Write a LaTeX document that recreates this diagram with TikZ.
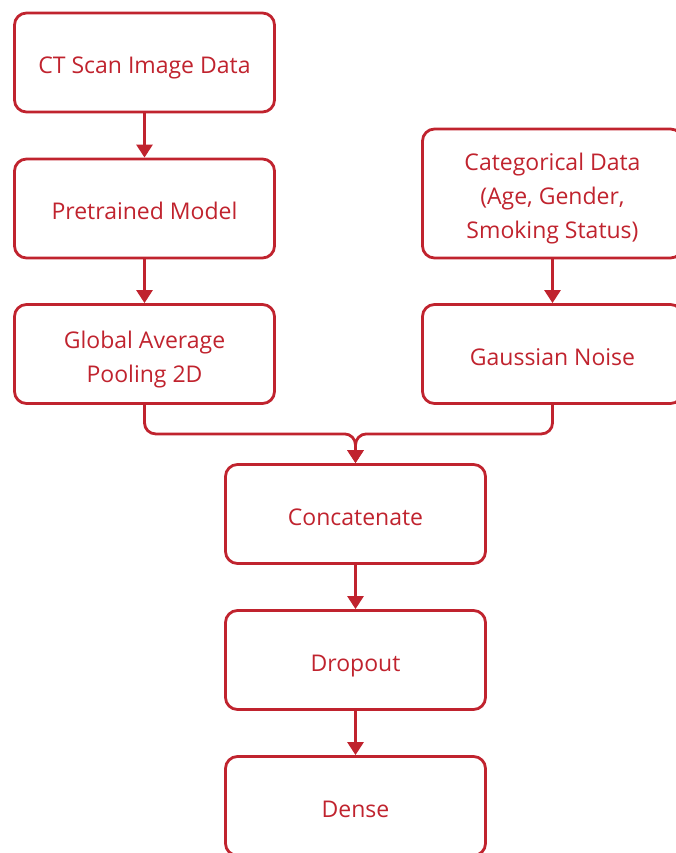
\documentclass[tikz,border=0pt]{standalone}
\usepackage{fontspec}
\setmainfont{Open Sans}
\usetikzlibrary{arrows.meta}
\definecolor{flowred}{HTML}{C0232E}
% centred label, set slightly below the optical middle of its box
\newcommand\boxlabel[1]{\raisebox{-4.5pt}[\height][\depth]{\begin{tabular}{@{}c@{}}#1\end{tabular}}}
\begin{document}
\begin{tikzpicture}[x=1pt,y=-1pt,
  stepbox/.style={draw=flowred, line width=2.8pt, rounded corners=12pt,
    minimum width=260pt, minimum height=99pt, inner sep=0pt,
    text=flowred, font=\fontsize{23}{34}\selectfont},
  flow/.style={draw=flowred, line width=2.8pt,
    -{Triangle[length=13pt,width=16pt]}}]
\useasboundingbox (0,0) rectangle (676,853);
\node[stepbox] (ct) at (144.5,62.5) {\boxlabel{CT Scan Image Data}};
\node[stepbox] (pre) at (144.5,208.5) {\boxlabel{Pretrained Model}};
\node[stepbox] (gap) at (144.5,354) {\boxlabel{Global Average\\Pooling 2D}};
\node[stepbox, minimum height=129pt] (cat) at (552.5,193.5) {\boxlabel{Categorical Data\\(Age, Gender,\\Smoking Status)}};
\node[stepbox] (gn) at (552.5,354) {\boxlabel{Gaussian Noise}};
\node[stepbox] (concat) at (355.5,514) {\boxlabel{Concatenate}};
\node[stepbox] (drop) at (355.5,660) {\boxlabel{Dropout}};
\node[stepbox] (dense) at (355.5,806) {\boxlabel{Dense}};
\draw[flow] (ct) -- (pre);
\draw[flow] (pre) -- (gap);
\draw[flow] (cat) -- (gn);
\draw[flow, rounded corners=11pt] (gap.south) -- ++(0,29) -| (concat.north);
\draw[flow, rounded corners=11pt] (gn.south) -- ++(0,29) -| (concat.north);
\draw[flow] (concat) -- (drop);
\draw[flow] (drop) -- (dense);
\end{tikzpicture}
\end{document}
